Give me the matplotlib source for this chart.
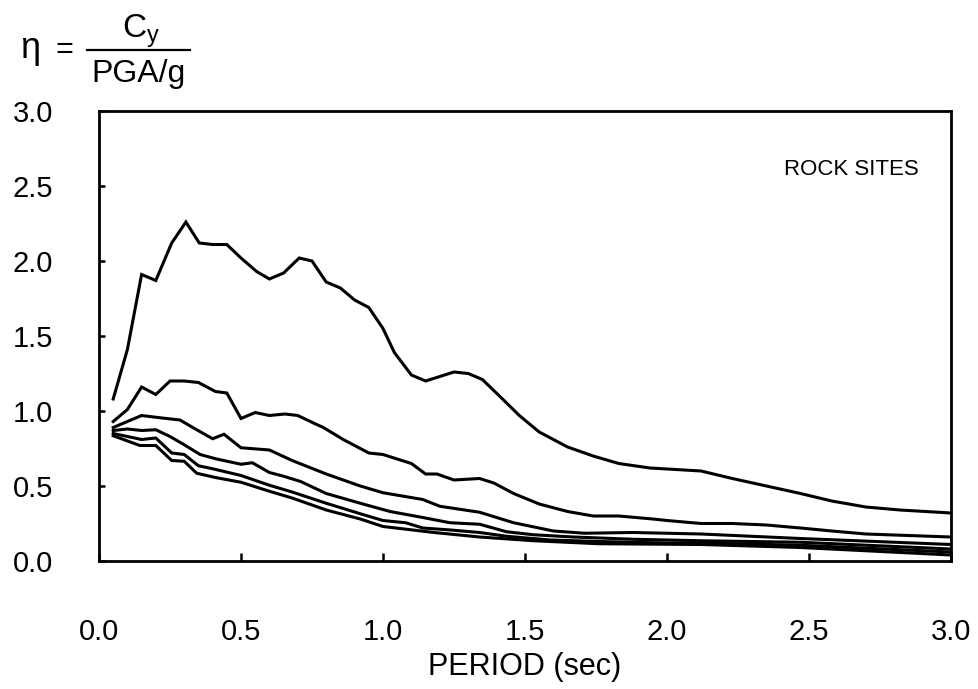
import matplotlib
matplotlib.use("Agg")
import matplotlib.pyplot as plt
from matplotlib.lines import Line2D


# ----------------------------
# Dados
# ----------------------------
t1 = [0.05, 0.10, 0.15, 0.20, 0.256, 0.306, 0.353, 0.40, 0.45, 0.50, 0.555, 0.60,
      0.65, 0.705, 0.75, 0.80, 0.85, 0.90, 0.95, 1.00, 1.04, 1.10, 1.15, 1.20,
      1.25, 1.30, 1.35, 1.41, 1.48, 1.55, 1.65, 1.74, 1.83, 1.94, 2.12, 2.23,
      2.35, 2.47, 2.58, 2.70, 2.82, 3.00]
eta1 = [1.08, 1.41, 1.91, 1.87, 2.12, 2.26, 2.12, 2.11, 2.11, 2.02, 1.93, 1.88,
        1.92, 2.02, 2.00, 1.86, 1.82, 1.74, 1.69, 1.55, 1.39, 1.24, 1.20, 1.23,
        1.26, 1.25, 1.21, 1.10, 0.97, 0.86, 0.76, 0.70, 0.65, 0.62, 0.60, 0.55,
        0.50, 0.45, 0.40, 0.36, 0.34, 0.32]

t2 = [0.05, 0.10, 0.15, 0.20, 0.25, 0.30, 0.35, 0.41, 0.45, 0.50, 0.55, 0.60,
      0.655, 0.70, 0.755, 0.79, 0.86, 0.95, 1.00, 1.05, 1.10, 1.15, 1.19, 1.25,
      1.34, 1.39, 1.46, 1.55, 1.65, 1.74, 1.83, 1.95, 2.00, 2.12, 2.23, 2.35,
      2.47, 2.58, 2.70, 2.85, 3.00]
eta2 = [0.93, 1.01, 1.16, 1.11, 1.20, 1.20, 1.19, 1.13, 1.12, 0.95, 0.99, 0.97,
        0.98, 0.97, 0.92, 0.89, 0.81, 0.72, 0.71, 0.68, 0.65, 0.58, 0.58, 0.54,
        0.55, 0.52, 0.45, 0.38, 0.33, 0.30, 0.30, 0.28, 0.27, 0.25, 0.25, 0.24,
        0.22, 0.20, 0.18, 0.17, 0.16]

t3 = [0.05, 0.15, 0.215, 0.285, 0.344, 0.40, 0.44, 0.50, 0.60, 0.68, 0.80, 0.92,
      1.00, 1.14, 1.20, 1.34, 1.46, 1.60, 1.71, 1.88, 2.12, 2.47, 3.00]
eta3 = [0.89, 0.97, 0.955, 0.94, 0.875, 0.815, 0.845, 0.755, 0.74, 0.67, 0.58, 0.50,
        0.455, 0.41, 0.365, 0.325, 0.255, 0.20, 0.185, 0.19, 0.18, 0.15, 0.11]

t4 = [0.05, 0.10, 0.15, 0.20, 0.25, 0.30, 0.356, 0.414, 0.50, 0.54, 0.60, 0.65,
      0.71, 0.80, 0.92, 1.025, 1.14, 1.236, 1.34, 1.435, 1.53, 1.67, 1.88, 2.12,
      2.47, 3.00]
eta4 = [0.87, 0.88, 0.87, 0.875, 0.83, 0.775, 0.71, 0.68, 0.645, 0.655, 0.59, 0.565,
        0.53, 0.45, 0.385, 0.33, 0.29, 0.255, 0.245, 0.195, 0.175, 0.16, 0.145, 0.135,
        0.125, 0.08]

t5 = [0.05, 0.15, 0.20, 0.256, 0.30, 0.35, 0.40, 0.50, 0.60, 0.68, 0.80, 0.92,
      1.00, 1.08, 1.14, 1.236, 1.34, 1.435, 1.59, 1.76, 2.00, 2.12, 2.47, 3.00]
eta5 = [0.85, 0.81, 0.82, 0.72, 0.71, 0.635, 0.615, 0.57, 0.505, 0.46, 0.385, 0.315,
        0.27, 0.255, 0.22, 0.207, 0.19, 0.165, 0.14, 0.13, 0.12, 0.12, 0.105, 0.06]

t6 = [0.05, 0.144, 0.20, 0.256, 0.30, 0.344, 0.414, 0.50, 0.60, 0.68, 0.80, 0.92,
      1.00, 1.18, 1.34, 1.53, 1.76, 2.12, 2.47, 3.00]
eta6 = [0.835, 0.77, 0.77, 0.67, 0.665, 0.585, 0.555, 0.525, 0.465, 0.42, 0.34, 0.28,
        0.23, 0.19, 0.16, 0.135, 0.115, 0.11, 0.09, 0.04]

curvas = [(t1, eta1), (t2, eta2), (t3, eta3), (t4, eta4), (t5, eta5), (t6, eta6)]

x_ticks = [0.0, 0.5, 1.0, 1.5, 2.0, 2.5, 3.0]
y_ticks = [0.0, 0.5, 1.0, 1.5, 2.0, 2.5, 3.0]

# ----------------------------
# Figura
# ----------------------------
plt.rcParams["font.family"] = ["Liberation Sans", "DejaVu Sans"]
W, H = 979, 689
fig = plt.figure(figsize=(W / 100, H / 100), dpi=100)
ax = fig.add_axes([99 / W, 1 - 561 / H, (951 - 99) / W, (561 - 111) / H])

for t, eta in curvas:
    ax.plot(t, eta, color="black", lw=2.2, solid_joinstyle="miter")

ax.set_xlim(0, 3.0)
ax.set_ylim(0, 3.0)
ax.set_xticks(x_ticks)
ax.set_yticks(y_ticks)
ax.set_xticklabels([f"{v:.1f}" for v in x_ticks])
ax.set_yticklabels([f"{v:.1f}" for v in y_ticks])
ax.tick_params(axis="both", direction="in", width=1.8, labelsize=21)
ax.tick_params(axis="x", length=6, pad=41)
ax.tick_params(axis="y", length=4, pad=33)
for s in ax.spines.values():
    s.set_linewidth(2.0)

ax.set_xlabel("PERIOD (sec)", fontsize=22, labelpad=4)
ax.text(2.65, 2.61, "ROCK SITES", fontsize=16, ha="center", va="center")

# rótulo do eixo y: eta = Cy / (PGA/g)
def fx(px):
    return px / W


def fy(py):
    return 1 - py / H


fig.text(fx(20), fy(58), "η", fontsize=26, ha="left", va="baseline")
fig.text(fx(64), fy(50), "=", fontsize=22, ha="center", va="center")
fig.text(fx(141), fy(37), r"C$_\mathregular{y}$", fontsize=24, ha="center", va="baseline")
fig.text(fx(139), fy(82), "PGA/g", fontsize=23, ha="center", va="baseline")
fig.add_artist(Line2D([fx(87), fx(190)], [fy(50), fy(50)], color="black", lw=1.6,
                      transform=fig.transFigure))

fig.savefig("out.png", dpi=100)
